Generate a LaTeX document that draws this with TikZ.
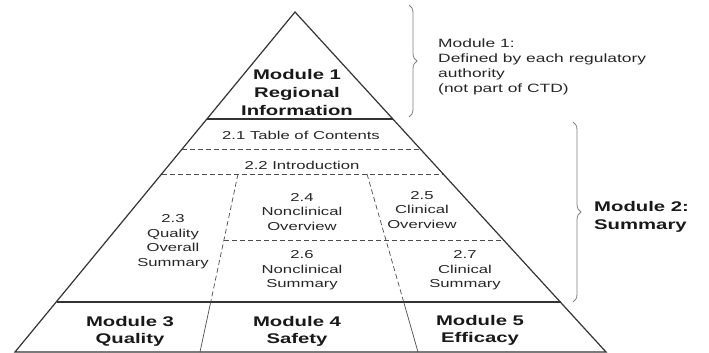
\documentclass[tikz,border=0pt]{standalone}
\usepackage{fontspec}
\setmainfont[FakeStretch=1.45]{Liberation Sans}
\usetikzlibrary{decorations.pathreplacing}
\begin{document}
\begin{tikzpicture}[x=1pt,y=-1pt,
	part/.style={align=center,inner sep=0pt,text=black!85,
		font=\fontsize{11.5}{14.5}\selectfont},
	module/.style={align=center,inner sep=0pt,text=black!90,
		font=\fontsize{14}{18}\selectfont\bfseries},
	cut/.style={dash pattern=on 5pt off 3pt,line width=0.7pt,black!70},
	curly/.style={decorate,decoration={brace,amplitude=8pt},black!50,line width=0.8pt}]
	\useasboundingbox (0,0) rectangle (709,353);
	% pyramid outline
	\draw[line width=1.2pt][black!80](295,12)--(606,352)--(15,352)--cycle;
	\draw[line width=2pt][black!80](207,119)--(393,119);
	\draw[line width=1.2pt][black!80](56.6,302)--(560.6,302);
	
	% module 2 sections
	\draw[cut](182.4,149)--(420.5,149);
	\draw[cut](161.8,174)--(443.4,174);
	\draw[cut](223.9,240)--(503.8,240);
	\draw[cut](238,174)--(210.7,302);
	\draw[cut](367,174)--(403.7,302);
	\draw[line width=0.7pt][black!70](210.7,302)--(200,352);
	\draw[line width=0.7pt][black!70](403.7,302)--(418,352);
	
	% braces
	\draw[curly](409,5)--(409,117);
	\draw[curly](573,122)--(573,302);
	
	\node[module] (m1) at (297,92) {Module 1\\Regional\\Information};
	\node[part] (toc) at (301,135) {2.1 Table of Contents};
	\node[part] (intro) at (302,165) {2.2 Introduction};
	\node[part] (qos) at (173,241.5) {2.3\\Quality\\Overall\\Summary};
	\node[part] (ncov) at (302,211.7) {2.4\\Nonclinical\\Overview};
	\node[part] (clov) at (422,209.7) {2.5\\Clinical\\Overview};
	\node[part] (ncsum) at (302,270.3) {2.6\\Nonclinical\\Summary};
	\node[part] (clsum) at (465,270.3) {2.7\\Clinical\\Summary};
	\node[module,font=\fontsize{14}{17}\selectfont\bfseries] (m3) at (130,331.5) {Module 3\\Quality};
	\node[module,font=\fontsize{14}{17}\selectfont\bfseries] (m4) at (297,331.5) {Module 4\\Safety};
	\node[module,font=\fontsize{14}{17}\selectfont\bfseries] (m5) at (480,330) {Module 5\\Efficacy};
	
	\node[part,align=left,anchor=west,font=\fontsize{12}{15}\selectfont] (m1note) at (438,66.5)
	{Module 1:\\Defined by each regulatory\\authority\\(not part of CTD)};
	\node[module,align=left,anchor=west] (m2note) at (594,216.5) {Module 2:\\Summary};
\end{tikzpicture}
\end{document}
